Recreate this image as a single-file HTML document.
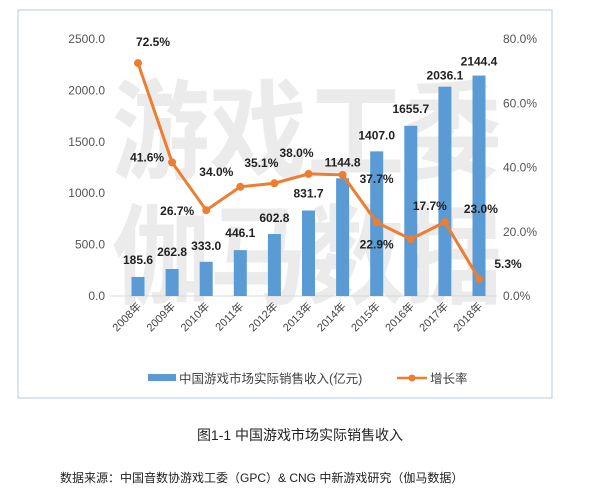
<!DOCTYPE html>
<html><head><meta charset="utf-8"><style>
body{margin:0;background:#fff;width:600px;height:489px;overflow:hidden;font-family:"Liberation Sans","Noto Sans CJK SC",sans-serif}
</style></head><body>
<svg id="c" width="600" height="489" xmlns="http://www.w3.org/2000/svg" style="font-family:'Liberation Sans','Noto Sans CJK SC',sans-serif">
<rect x="18" y="10" width="534" height="388" fill="none" stroke="#b8c8d8" stroke-width="1"/>
<g fill="#ebebeb" font-size="108" font-weight="bold">
<text x="112" y="170" textLength="390" lengthAdjust="spacingAndGlyphs">游戏工委</text>
<text x="112" y="295" textLength="390" lengthAdjust="spacingAndGlyphs">伽马数据</text>
</g>
<g id="axes"></g><g id="bars"></g><g id="line"></g><g id="labels"></g>
<g>
<rect x="148" y="374" width="28" height="7" fill="#5b9bd5"/>
<text x="179" y="383" font-size="12.5" fill="#404040">中国游戏市场实际销售收入(亿元)</text>
<line x1="397" y1="378" x2="427" y2="378" stroke="#ed7d31" stroke-width="2.5"/>
<circle cx="412" cy="378" r="3.5" fill="#ed7d31"/>
<text x="430" y="383" font-size="12.5" fill="#404040">增长率</text>
</g>
<text x="300" y="440" text-anchor="middle" font-size="14" fill="#222">图1-1  中国游戏市场实际销售收入</text>
<text x="60" y="482" font-size="12" fill="#222">数据来源：中国音数协游戏工委（GPC）&amp; CNG 中新游戏研究（伽马数据）</text>
</svg>
<script>
const years=["2008年","2009年","2010年","2011年","2012年","2013年","2014年","2015年","2016年","2017年","2018年"];
const revenue=[185.6,262.8,333.0,446.1,602.8,831.7,1144.8,1407.0,1655.7,2036.1,2144.4];
const growth=[72.5,41.6,26.7,34.0,35.1,38.0,37.7,22.9,17.7,23.0,5.3];
const leftTicks=[0,500,1000,1500,2000,2500];
const rightTicks=[0,20,40,60,80];
const NS="http://www.w3.org/2000/svg";
const pTop=39,bot=296,step=34.1;
const xs=i=>138+i*step;
const yL=v=>bot-(v/2500)*(bot-pTop);
const yR=v=>bot-(v/80)*(bot-pTop);
function mk(t,a,p){const e=document.createElementNS(NS,t);for(const k in a)e.setAttribute(k,a[k]);(p||document.getElementById('c')).appendChild(e);return e;}
const ax=document.getElementById('axes');
let bl=mk('line',{x1:110,y1:bot,x2:497,y2:bot,stroke:'#d9d9d9'},ax);


leftTicks.forEach(v=>{const t=mk('text',{x:105,y:yL(v)+4,'text-anchor':'end','font-size':12,fill:'#555'},ax);t.textContent=v.toFixed(1);

});
rightTicks.forEach(v=>{const t=mk('text',{x:503,y:yR(v)+4,'font-size':12,fill:'#555'},ax);t.textContent=v.toFixed(1)+'%';

});
years.forEach((y,i)=>{const t=mk('text',{x:xs(i)+4,y:307,'text-anchor':'end','font-size':11,fill:'#444',transform:`rotate(-45 ${xs(i)+4} 307)`},ax);t.textContent=y;

});
const bg=document.getElementById('bars');
revenue.forEach((v,i)=>{const r=mk('rect',{x:xs(i)-6.5,y:yL(v),width:13,height:bot-yL(v),fill:'#5b9bd5'},bg);

});
const lg=document.getElementById('line');
const pl=mk('polyline',{points:growth.map((v,i)=>xs(i)+','+yR(v)).join(' '),fill:'none',stroke:'#ed7d31','stroke-width':3},lg);


growth.forEach((v,i)=>{const c=mk('circle',{cx:xs(i),cy:yR(v),r:4,fill:'#ed7d31'},lg);

});
const lb=document.getElementById('labels');
const barOff=[[0,-13],[0,-13],[0,-12],[0,-13],[0,-12],[0,-13],[0,-12],[0,-12],[0,-13],[0,-7],[0,-10]];
revenue.forEach((v,i)=>{const t=mk('text',{x:xs(i)+barOff[i][0],y:yL(v)+barOff[i][1],'text-anchor':'middle','font-size':12,'font-weight':'bold',fill:'#222'},lb);t.textContent=v.toFixed(1);

});
const gOff=[[15,-17],[-25,-1],[-29,5],[-24,-11],[-13,-16],[-12,-17],[34,8],[0,26],[19,-29],[36,-9],[29,-11]];
growth.forEach((v,i)=>{const t=mk('text',{x:xs(i)+gOff[i][0],y:yR(v)+gOff[i][1],'text-anchor':'middle','font-size':12,'font-weight':'bold',fill:'#222'},lb);t.textContent=v.toFixed(1)+'%';

});
</script>
</body></html>
